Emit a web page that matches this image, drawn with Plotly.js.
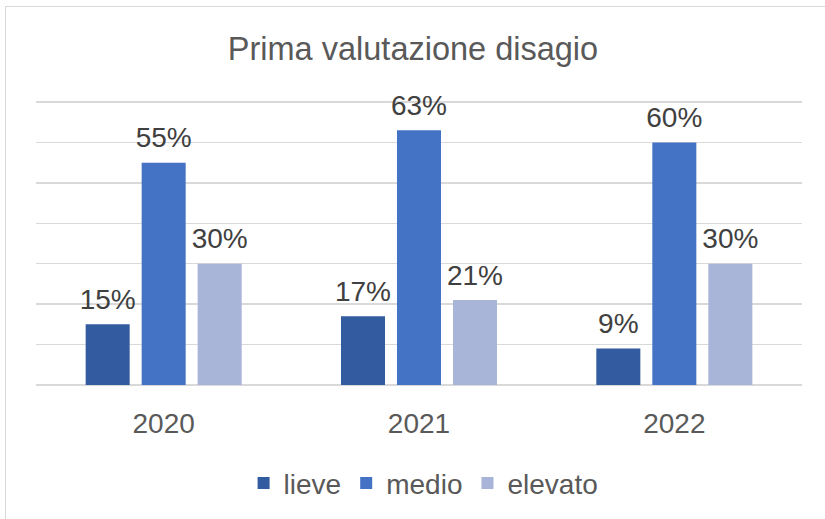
<!DOCTYPE html>
<html>
<head>
<meta charset="utf-8">
<script src="https://cdn.plot.ly/plotly-3.0.1.min.js"></script>
<style>
    body { margin: 0; background: #fff; }
    #frame { position: absolute; left: 5px; top: 6px; width: 840px; height: 530px; border: 1.5px solid #d9d9d9; }
    #chart { position: absolute; left: 0; top: 0; width: 825px; height: 519px; }
</style>
</head>
<body>
<div id="frame"></div>
<div id="chart"></div>
<script>
const years = ['2020', '2021', '2022']
const lieve = [15, 17, 9]
const medio = [55, 63, 60]
const elevato = [30, 21, 30]

const font = 'Liberation Sans, Arial, sans-serif'

function bars(name, values, color) {
    return {
        type: 'bar',
        name,
        x: years,
        y: values,
        marker: { color },
        hoverinfo: 'skip'
    }
}

// value labels as grouped scatter with invisible markers, so they sit a bit higher than bar text
function labels(name, values) {
    return {
        type: 'scatter',
        mode: 'markers+text',
        name,
        x: years,
        y: values,
        text: values.map(v => v + '%'),
        textposition: 'top center',
        textfont: { family: font, size: 28, color: '#404040' },
        marker: { size: 12, color: 'rgba(0,0,0,0)' },
        cliponaxis: false,
        showlegend: false,
        hoverinfo: 'skip'
    }
}

const data = [
    bars('lieve', lieve, '#335ba0'),
    bars('medio', medio, '#4472c4'),
    bars('elevato', elevato, '#a8b5d9'),
    labels('lieve', lieve),
    labels('medio', medio),
    labels('elevato', elevato)
]

const layout = {
    width: 825,
    height: 519,
    margin: { l: 36, r: 23, t: 98, b: 133 },
    paper_bgcolor: 'rgba(0,0,0,0)',
    plot_bgcolor: 'rgba(0,0,0,0)',
    font: { family: font, color: '#595959' },
    title: {
        text: 'Prima valutazione disagio',
        font: { family: font, size: 32.5, color: '#595959' },
        x: 413 / 825,
        xanchor: 'center',
        y: 1 - 49 / 519,
        yanchor: 'middle'
    },
    barmode: 'group',
    bargap: 0.342,
    bargroupgap: 0.214,
    scattermode: 'group',
    scattergap: 0.342,
    xaxis: {
        type: 'category',
        tickfont: { family: font, size: 28, color: '#595959' },
        ticklabelstandoff: 19,
        showline: false,
        ticks: ''
    },
    yaxis: {
        range: [0, 71],
        dtick: 10,
        showticklabels: false,
        gridcolor: '#d9d9d9',
        gridwidth: 1.5,
        zerolinecolor: '#d9d9d9',
        zerolinewidth: 1.5
    },
    showlegend: true,
    legend: {
        orientation: 'h',
        x: 0.506,
        xanchor: 'center',
        y: -0.338,
        yanchor: 'middle',
        font: { family: font, size: 28, color: '#595959' },
        itemwidth: 30
    }
}

Plotly.newPlot('chart', data, layout, { staticPlot: true })
</script>
</body>
</html>
